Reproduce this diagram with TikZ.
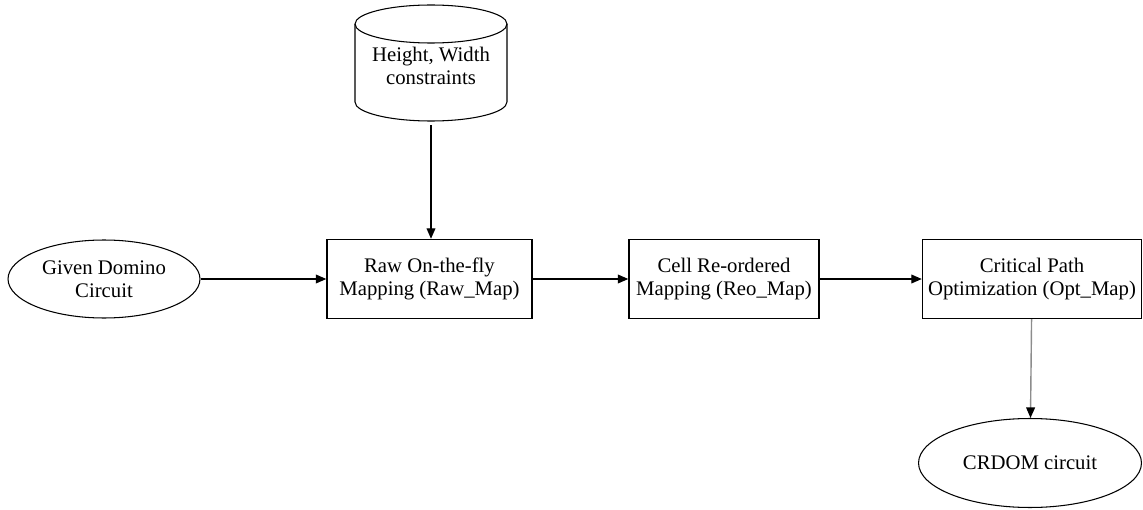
\documentclass[tikz,border=0pt]{standalone}
\usepackage{fontspec}
\setmainfont{Liberation Serif}
\usepackage{tikz}
\usetikzlibrary{shapes.geometric, arrows.meta, positioning}
\definecolor{edgegray}{gray}{0.55}
\tikzset{every picture/.style={font=\fontsize{11.8}{13.2}\selectfont}}

\begin{document}
\begin{tikzpicture}[
  x=0.02cm, y=-0.02cm,
  stepbox/.style={draw, line width=0.8pt, minimum height=1.58cm, align=center, inner sep=0pt},
  terminal/.style={ellipse, draw, line width=0.6pt, align=center, inner sep=0pt},
  store/.style={align=center, minimum width=3.06cm, minimum height=2.32cm, inner sep=0pt},
  arrow/.style={-{Triangle[length=6pt,width=5pt]}, line width=0.8pt}
]
  \useasboundingbox (0,0) rectangle (1143,510);

  % constraint store (cylinder)
  \node[store] (cons) at (431,66) {Height, Width\\constraints};
  \draw[line width=0.6pt] (355,24) -- (355,102) arc[start angle=180, end angle=360, x radius=1.52cm, y radius=0.38cm] -- (507,24);
  \draw[line width=0.6pt] (431,24) ellipse[x radius=1.52cm, y radius=0.38cm];

  \node[terminal, minimum width=3.84cm, minimum height=1.56cm] (given) at (104,279) {Given Domino\\Circuit};
  \node[stepbox, minimum width=4.1cm]  (raw) at (429.5,279) {Raw On-the-fly\\Mapping (Raw\_Map)};
  \node[stepbox, minimum width=3.8cm]  (reo) at (724,279)   {Cell Re-ordered\\Mapping (Reo\_Map)};
  \node[stepbox, minimum width=4.38cm] (opt) at (1032,279)  {Critical Path\\Optimization (Opt\_Map)};
  \node[terminal, minimum width=4.46cm, minimum height=1.78cm] (out) at (1030,463) {CRDOM circuit};

  \draw[arrow] (cons.south) ++(0,-0.02cm) coordinate (consb) -- (raw.north -| consb);
  \draw[arrow] (given) -- (raw);
  \draw[arrow] (raw) -- (reo);
  \draw[arrow] (reo) -- (opt);
  \draw[-{Triangle[length=6pt,width=5pt,color=black]}, line width=0.8pt, color=edgegray] (opt) -- (out);
\end{tikzpicture}
\end{document}
